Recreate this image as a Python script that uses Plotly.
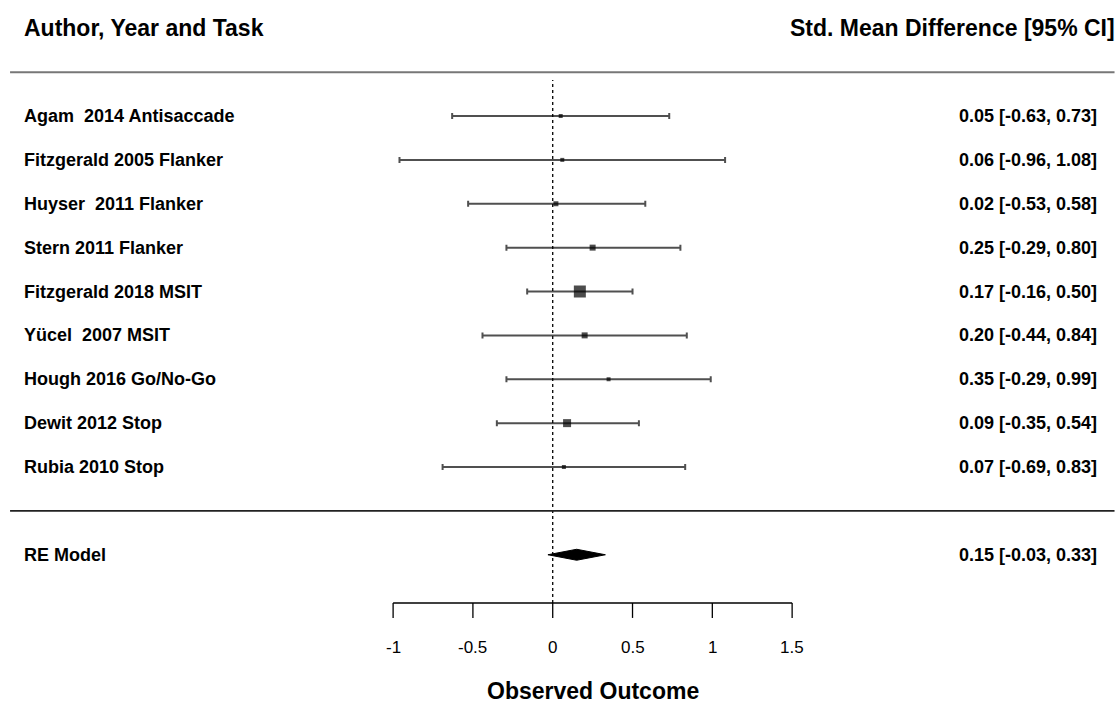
import plotly.graph_objects as go

# ---- data ----
studies = ["Agam  2014 Antisaccade", "Fitzgerald 2005 Flanker", "Huyser  2011 Flanker",
           "Stern 2011 Flanker", "Fitzgerald 2018 MSIT", "Yücel  2007 MSIT",
           "Hough 2016 Go/No-Go", "Dewit 2012 Stop", "Rubia 2010 Stop"]
smd = [0.05, 0.06, 0.02, 0.25, 0.17, 0.20, 0.35, 0.09, 0.07]
ci_low = [-0.63, -0.96, -0.53, -0.29, -0.16, -0.44, -0.29, -0.35, -0.69]
ci_high = [0.73, 1.08, 0.58, 0.80, 0.50, 0.84, 0.99, 0.54, 0.83]
re_est, re_low, re_high = 0.15, -0.03, 0.33
tick_vals = [-1, -0.5, 0, 0.5, 1, 1.5]
tick_text = ["-1", "-0.5", "0", "0.5", "1", "1.5"]

# ---- style / layout ----
marker_px = [4, 4, 5, 6, 12, 6, 4, 8, 4]
k = len(studies)
rows = list(range(k, 0, -1))
FONT = "Liberation Sans, Arial, Helvetica, sans-serif"
X_LEFT, X_RIGHT = -3.463, 3.548
Y_BOTTOM, Y_TOP = -4.4245, 11.644
LAB_X = -3.325
VAL_X = 3.42
LINE_X0, LINE_X1 = -3.40, 3.52
AXIS_Y, TICK_Y, TICKLAB_Y, TITLE_Y = -2.1, -2.44, -3.125, -4.1
LAB_SIZE, HEAD_SIZE, TICK_SIZE = 18, 23, 17

fig = go.Figure()

# study CIs
fig.add_trace(go.Scatter(
    x=smd, y=rows, mode="markers",
    marker=dict(size=1, color="rgba(0,0,0,0)"),
    error_x=dict(type="data", symmetric=False,
                 array=[h - e for h, e in zip(ci_high, smd)],
                 arrayminus=[e - l for e, l in zip(smd, ci_low)],
                 color="#505050", thickness=2, width=3),
    showlegend=False, hoverinfo="skip"))
# point estimates on top
fig.add_trace(go.Scatter(
    x=smd, y=rows, mode="markers",
    marker=dict(symbol="square", size=marker_px, color="black", line=dict(width=0)),
    showlegend=False, hoverinfo="skip"))

# RE diamond
dh = 0.125
fig.add_trace(go.Scatter(
    x=[re_low, re_est, re_high, re_est, re_low],
    y=[-1, -1 + dh, -1, -1 - dh, -1],
    mode="lines", fill="toself", fillcolor="black",
    line=dict(color="black", width=1), showlegend=False, hoverinfo="skip"))

shapes = []
shapes.append(dict(type="line", x0=0, x1=0, y0=AXIS_Y, y1=9.82, xref="x", yref="y",
                   line=dict(color="black", width=1.3, dash="dot")))
shapes.append(dict(type="line", x0=LINE_X0, x1=LINE_X1, y0=10, y1=10, xref="x", yref="y",
                   line=dict(color="#777777", width=2)))
shapes.append(dict(type="line", x0=LINE_X0, x1=LINE_X1, y0=0, y1=0, xref="x", yref="y",
                   line=dict(color="#222222", width=1.6)))
shapes.append(dict(type="line", x0=tick_vals[0], x1=tick_vals[-1], y0=AXIS_Y, y1=AXIS_Y,
                   xref="x", yref="y", line=dict(color="black", width=1.3)))
for tv in tick_vals:
    shapes.append(dict(type="line", x0=tv, x1=tv, y0=AXIS_Y, y1=TICK_Y, xref="x", yref="y",
                       line=dict(color="black", width=1.3)))

ann = []
for name, r, e, lo, hi in zip(studies, rows, smd, ci_low, ci_high):
    ann.append(dict(x=LAB_X, y=r, text=f"<b>{name}</b>", xanchor="left", yanchor="middle",
                    showarrow=False, font=dict(family=FONT, size=LAB_SIZE, color="black")))
    ann.append(dict(x=VAL_X, y=r, text=f"<b>{e:.2f} [{lo:.2f}, {hi:.2f}]</b>",
                    xanchor="right", yanchor="middle", showarrow=False,
                    font=dict(family=FONT, size=LAB_SIZE, color="black")))
ann.append(dict(x=LAB_X, y=-1, text="<b>RE Model</b>", xanchor="left", yanchor="middle",
                showarrow=False, font=dict(family=FONT, size=LAB_SIZE, color="black")))
ann.append(dict(x=VAL_X, y=-1, text=f"<b>{re_est:.2f} [{re_low:.2f}, {re_high:.2f}]</b>",
                xanchor="right", yanchor="middle", showarrow=False,
                font=dict(family=FONT, size=LAB_SIZE, color="black")))
ann.append(dict(x=LAB_X, y=11, text="<b>Author, Year and Task</b>", xanchor="left",
                yanchor="middle", showarrow=False,
                font=dict(family=FONT, size=HEAD_SIZE, color="black")))
ann.append(dict(x=3.535, y=11, text="<b>Std. Mean Difference [95% CI]</b>", xanchor="right",
                yanchor="middle", showarrow=False,
                font=dict(family=FONT, size=HEAD_SIZE, color="black")))
for tv, tt in zip(tick_vals, tick_text):
    ann.append(dict(x=tv, y=TICKLAB_Y, text=tt, xanchor="center", yanchor="middle",
                    showarrow=False, font=dict(family=FONT, size=TICK_SIZE, color="black")))
ann.append(dict(x=0.25, y=TITLE_Y, text="<b>Observed Outcome</b>", xanchor="center",
                yanchor="middle", showarrow=False,
                font=dict(family=FONT, size=HEAD_SIZE, color="black")))

fig.update_layout(
    width=1119, height=705, margin=dict(l=0, r=0, t=0, b=0),
    paper_bgcolor="white", plot_bgcolor="white",
    xaxis=dict(range=[X_LEFT, X_RIGHT], visible=False, fixedrange=True),
    yaxis=dict(range=[Y_BOTTOM, Y_TOP], visible=False, fixedrange=True),
    shapes=shapes, annotations=ann, showlegend=False)

fig.write_html("out.html", config={"displayModeBar": False},
               post_script="document.body.style.margin='0';")
